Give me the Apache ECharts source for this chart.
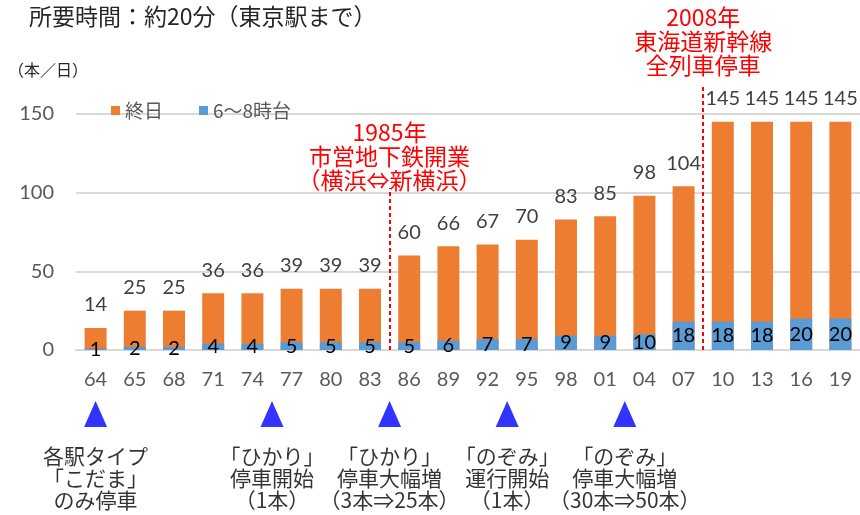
<!DOCTYPE html>
<html>
<head>
<meta charset="utf-8">
<script src="https://cdn.jsdelivr.net/npm/echarts@6/dist/echarts.min.js"></script>
<style>html,body{margin:0;background:#fff}#c{width:860px;height:515px}</style>
</head>
<body>
<div id="c"></div>
<script>
// 年（下2桁）
const years = ['64', '65', '68', '71', '74', '77', '80', '83', '86', '89',
  '92', '95', '98', '01', '04', '07', '10', '13', '16', '19'];
// 終日（本／日）
const allDay = [14, 25, 25, 36, 36, 39, 39, 39, 60, 66, 67, 70, 83, 85, 98, 104, 145, 145, 145, 145];
// 6～8時台（本）
const morning = [1, 2, 2, 4, 4, 5, 5, 5, 5, 6, 7, 7, 9, 9, 10, 18, 18, 18, 20, 20];

// 赤い区切り線（at=カテゴリ境界の位置, top=線の上端の値）
const eventAt = [8, 16];
const eventTop = [103, 168];
const eventText = ['1985年\n市営地下鉄開業\n（横浜⇔新横浜）', '2008年\n東海道新幹線\n全列車停車'];
const eventGap = [-4, 8];

// 青い▲と注記（at=カテゴリ単位の位置）
const noteAt = [0.5, 5, 8, 11, 14];
const noteText = [
  '各駅タイプ\n「こだま」\nのみ停車',
  '「ひかり」\n停車開始\n（1本）',
  '「ひかり」\n停車大幅増\n（3本⇒25本）',
  '「のぞみ」\n運行開始\n（1本）',
  '「のぞみ」\n停車大幅増\n（30本⇒50本）',
];

const JP = '"Noto Sans CJK JP", sans-serif';
const NUM = 'Lato, "Noto Sans CJK JP", sans-serif';
const ORANGE = '#ED7D31';
const BLUE = '#5B9BD5';
const GRID_LINE = '#D9D9D9';

const W = 860, H = 515;
const LEFT = 76, RIGHT = 0, TOP = 114, BOTTOM = 165;
const Y_MAX = 150;
// 上に伸びる注記用の重ね座標系（y=0 と目盛り間隔を本体にそろえる）
const OVER_MAX = Y_MAX * (H - BOTTOM) / (H - TOP - BOTTOM);

const chart = echarts.init(document.getElementById('c'), null, { renderer: 'canvas' });

chart.setOption({
  animation: false,
  backgroundColor: '#fff',
  textStyle: { fontFamily: JP },
  title: [
    { text: '所要時間：約20分（東京駅まで）', left: 24, top: 0,
      textStyle: { fontSize: 23, fontWeight: 'normal', color: '#262626', fontFamily: JP } },
    { text: '（本／日）', left: 3, top: 57,
      textStyle: { fontSize: 16, fontWeight: 'normal', color: '#262626', fontFamily: JP } },
  ],
  legend: {
    left: 106, top: 96, itemWidth: 9, itemHeight: 9, itemGap: 36, icon: 'rect',
    textStyle: { color: '#595959', fontSize: 19, fontFamily: JP },
    data: ['終日', '6～8時台'],
  },
  grid: [
    { left: LEFT, right: RIGHT, top: TOP, bottom: BOTTOM },
    { left: LEFT, right: RIGHT, top: 395, height: 38 },
    { left: LEFT, right: RIGHT, top: 0, bottom: BOTTOM },
  ],
  xAxis: [
    { type: 'category', gridIndex: 0, data: years,
      axisLine: { lineStyle: { color: GRID_LINE, width: 2 } },
      axisTick: { show: false },
      axisLabel: { color: '#595959', fontSize: 20, fontFamily: NUM, margin: 20 } },
    { type: 'value', gridIndex: 1, min: 0, max: years.length, show: false },
    { type: 'value', gridIndex: 2, min: 0, max: years.length, show: false },
  ],
  yAxis: [
    { type: 'value', gridIndex: 0, min: 0, max: Y_MAX, interval: 50,
      axisLine: { show: false }, axisTick: { show: false },
      splitLine: { lineStyle: { color: GRID_LINE, width: 2 } },
      axisLabel: { color: '#595959', fontSize: 20, fontFamily: NUM, margin: 22 } },
    { type: 'value', gridIndex: 1, min: 0, max: 1, show: false },
    { type: 'value', gridIndex: 2, min: 0, max: OVER_MAX, show: false },
  ],
  series: [
    { name: '終日', type: 'bar', data: allDay, barWidth: '56%', barGap: '-100%',
      itemStyle: { color: ORANGE },
      label: { show: true, position: 'top', distance: 13, color: '#404040',
        fontSize: 20, fontFamily: NUM } },
    { name: '6～8時台', type: 'bar', data: morning, barWidth: '56%', barGap: '-100%',
      itemStyle: { color: BLUE },
      label: { show: true, position: 'inside', color: '#000',
        fontSize: 20, fontFamily: NUM } },
    { type: 'scatter', xAxisIndex: 1, yAxisIndex: 1, silent: true,
      data: noteAt.map((x) => [x, 0.5]),
      symbol: 'triangle', symbolSize: [23, 26],
      itemStyle: { color: '#0000FF' },
      label: { show: true, position: 'bottom', distance: 18, color: '#000',
        fontSize: 21, lineHeight: 22, fontFamily: JP, align: 'center',
        formatter: (p) => noteText[p.dataIndex] } },
    { type: 'line', xAxisIndex: 2, yAxisIndex: 2, data: [], silent: true,
      markLine: {
        silent: true, symbol: ['none', 'none'],
        lineStyle: { color: '#FF0000', type: [4, 3], width: 2 },
        label: { show: true, position: 'end', distance: 3, color: '#FF0000',
          fontSize: 23, lineHeight: 24, fontFamily: JP,
          formatter: (p) => p.name },
        data: eventAt.map((x, i) => [
          { coord: [x, 0], name: eventText[i], label: { distance: eventGap[i] } },
          { coord: [x, eventTop[i]] },
        ]),
      } },
  ],
});
</script>
</body>
</html>
